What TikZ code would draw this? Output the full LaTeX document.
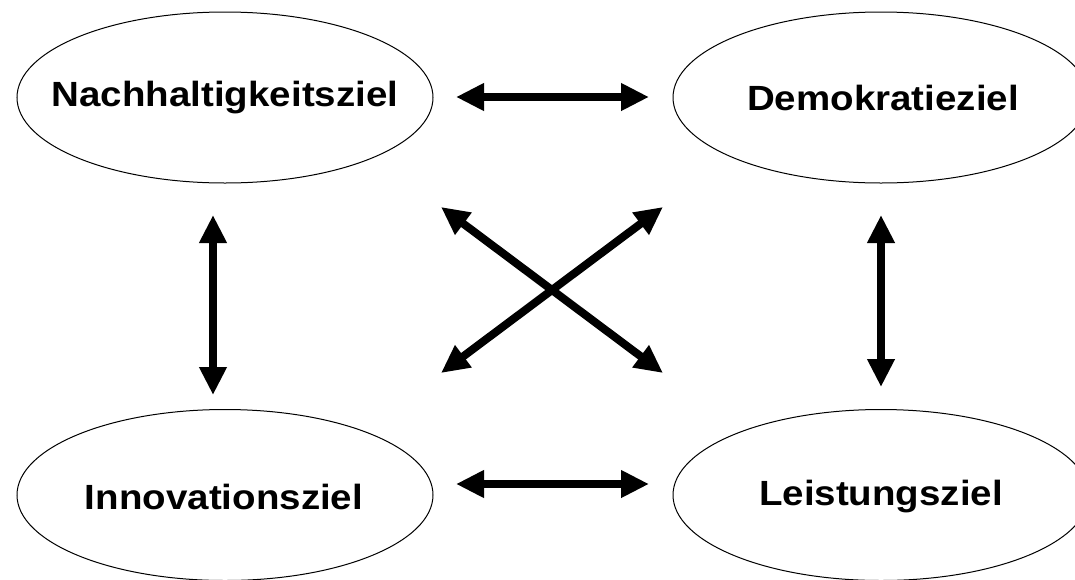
\documentclass[tikz,border=0pt]{standalone}
\usepackage{fontspec}
\setmainfont{Liberation Sans}
\usetikzlibrary{shapes.geometric,arrows.meta}
\tikzset{
  goal/.style={draw=black, line width=1pt, ellipse, minimum width=416pt, minimum height=171pt, inner sep=0pt},
  goaltext/.style={inner sep=0pt, font=\fontsize{35}{42}\selectfont\bfseries},
  bigarrow/.style={line width=8pt, {Triangle[length=28pt,width=26pt]}-{Triangle[length=28pt,width=26pt]}}
}
\newcommand{\goallabel}[1]{\scalebox{1.1}[1]{#1}}
\begin{document}
\begin{tikzpicture}[x=1pt,y=-1pt]
\useasboundingbox (0,0) rectangle (1075,579);
\clip (0,0) rectangle (1075,579);
\node[goal] (nh) at (225,97.5) {};
\node[goal] (dk) at (881,97.5) {};
\node[goal] (in) at (225,495) {};
\node[goal] (ls) at (881,495) {};
\node[goaltext] (nht) at (225,97.5) {\goallabel{Nachhaltigkeitsziel}};
\node[goaltext] (dkt) at (883,97.5) {\goallabel{Demokratieziel}};
\node[goaltext] (int) at (224,497) {\goallabel{Innovationsziel}};
\node[goaltext] (lst) at (881,497) {\goallabel{Leistungsziel}};
% arrow endpoints
\coordinate (h1a) at (456,97);
\coordinate (h1b) at (649,97);
\coordinate (h2a) at (456,484);
\coordinate (h2b) at (649,484);
\coordinate (v1a) at (213,215);
\coordinate (v1b) at (213,395);
\coordinate (v2a) at (881,215);
\coordinate (v2b) at (881,387);
\coordinate (d1a) at (441,207);
\coordinate (d1b) at (663,373);
\coordinate (d2a) at (441,373);
\coordinate (d2b) at (663,207);
\draw[bigarrow] (h1a) -- (h1b);
\draw[bigarrow] (h2a) -- (h2b);
\draw[bigarrow] (v1a) -- (v1b);
\draw[bigarrow] (v2a) -- (v2b);
\draw[bigarrow] (d1a) -- (d1b);
\draw[bigarrow] (d2a) -- (d2b);
\end{tikzpicture}
\end{document}
